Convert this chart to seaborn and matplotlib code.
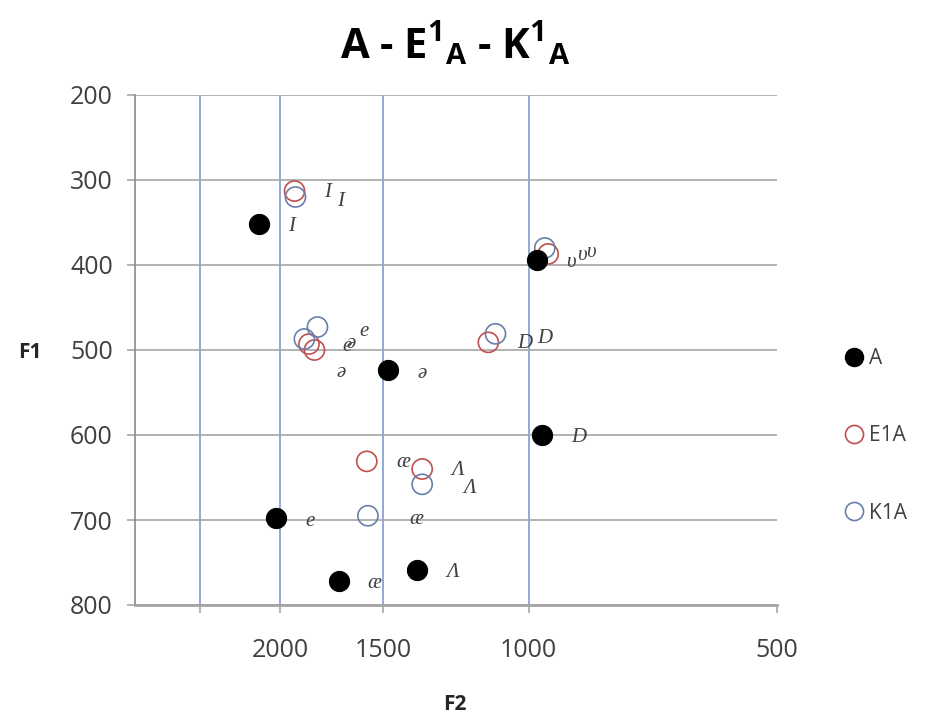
import matplotlib
matplotlib.use("Agg")
import matplotlib.pyplot as plt
import seaborn as sns
import pandas as pd
from matplotlib.lines import Line2D

# ---- data ----
A_vowels = ['I', 'υ', 'ə', 'D', 'e', 'æ', 'Λ']
A_F2 = [2121, 977, 1480, 964, 2023, 1700, 1365]
A_F1 = [352, 394, 524, 600, 698, 772, 759]

E1A_vowels = ['I', 'υ', 'e', 'ə', 'D', 'æ', 'Λ']
E1A_F2 = [1922, 947, 1846, 1818, 1119, 1571, 1346]
E1A_F1 = [313, 387, 493, 500, 491, 631, 640]

K1A_vowels = ['I', 'υ', 'e', 'ə', 'D', 'æ', 'Λ']
K1A_F2 = [1917, 956, 1803, 1870, 1097, 1566, 1346]
K1A_F1 = [320, 380, 473, 487, 481, 695, 658]

series_names = ['A', 'E1A', 'K1A']
x_ticks = [2500, 2000, 1500, 1000, 500]
x_ticklabels = ['', '2000', '1500', '1000', '500']
y_ticks = [200, 300, 400, 500, 600, 700, 800]

sns.set_theme(style="white")
plt.rcParams['font.family'] = ['Open Sans', 'DejaVu Sans']
plt.rcParams['mathtext.fontset'] = 'custom'
plt.rcParams['mathtext.bf'] = 'Open Sans:bold'
plt.rcParams['mathtext.rm'] = 'Open Sans:bold'
plt.rcParams['mathtext.default'] = 'bf'

df = pd.concat([
    pd.DataFrame({'F2': A_F2, 'F1': A_F1, 'vowel': A_vowels, 'series': 'A'}),
    pd.DataFrame({'F2': E1A_F2, 'F1': E1A_F1, 'vowel': E1A_vowels, 'series': 'E1A'}),
    pd.DataFrame({'F2': K1A_F2, 'F1': K1A_F1, 'vowel': K1A_vowels, 'series': 'K1A'}),
], ignore_index=True)

fig = plt.figure(figsize=(9.25, 7.21), dpi=100)
ax = fig.add_axes([135/925, 1-605/721, (777-135)/925, (605-95)/721])

red = '#C0504D'
blue = '#6A7FAA'
ms = 210

sns.scatterplot(data=df[df.series == 'A'], x='F2', y='F1', ax=ax, s=ms,
                color='black', edgecolor='black', linewidth=0.8, legend=False, zorder=4)
sns.scatterplot(data=df[df.series == 'E1A'], x='F2', y='F1', ax=ax, s=ms,
                facecolor='none', edgecolor=red, linewidth=1.2, legend=False, zorder=3)
sns.scatterplot(data=df[df.series == 'K1A'], x='F2', y='F1', ax=ax, s=ms,
                facecolor='none', edgecolor=blue, linewidth=1.2, legend=False, zorder=3)

label_offsets = {'A': (21, -2), 'E1A': (21, -1), 'K1A': (30, -3)}
label_overrides = {('E1A', 'ə'): (16, -16), ('E1A', 'e'): (24, -2)}
for _, r in df.iterrows():
    off = label_overrides.get((r['series'], r['vowel']), label_offsets[r['series']])
    ax.annotate(r['vowel'], (r['F2'], r['F1']), xytext=off,
                textcoords='offset points',
                fontsize=15, fontstyle='italic', color='#404040',
                family=['Liberation Serif', 'DejaVu Serif'], va='center', ha='left', zorder=5)

ax.set_xscale('log')
ax.set_xlim(3000, 500)
ax.set_ylim(800, 200)
ax.set_xticks(x_ticks)
ax.set_xticklabels(x_ticklabels)
ax.minorticks_off()
ax.set_yticks(y_ticks)

ax.grid(False)
for yv in y_ticks:
    ax.axhline(yv, color='#A6A6A6', lw=1.2, zorder=1)
ax.xaxis.grid(True, color='#7F9BD0', lw=1.2)
gl = ax.get_xgridlines()
gl[-1].set_visible(False)
ax.set_axisbelow(True)

for s in ['top', 'right']:
    ax.spines[s].set_visible(False)
ax.spines['left'].set_color('#8A8A8A')
ax.spines['left'].set_linewidth(1.2)
ax.spines['bottom'].set_color('#A6A6A6')
ax.spines['bottom'].set_linewidth(2)

ax.tick_params(axis='y', which='major', left=True, length=6, width=1.2, color='#A6A6A6',
               labelsize=18, labelcolor='#404040', pad=10)
ax.tick_params(axis='x', which='major', bottom=True, length=6, width=1.2, color='#A6A6A6',
               labelsize=18, labelcolor='#404040', pad=18)

ax.set_xlabel('')
ax.set_ylabel('')
fig.text(30/925, 1-352/721, 'F1', fontsize=15, fontweight='bold', color='#262626',
         ha='center', va='center')
fig.text(455/925, 1-705/721, 'F2', fontsize=15, fontweight='bold', color='#262626',
         ha='center', va='center')

fig.text(455/925, 1-45/721, r'A - E$^{1}{}_{A}$ - K$^{1}{}_{A}$',
         fontsize=30, fontweight='bold', ha='center', va='center', color='black')

handles = [
    Line2D([], [], marker='o', ls='', markersize=13, markerfacecolor='black', markeredgecolor='black'),
    Line2D([], [], marker='o', ls='', markersize=13, markerfacecolor='none', markeredgecolor=red, markeredgewidth=1.2),
    Line2D([], [], marker='o', ls='', markersize=13, markerfacecolor='none', markeredgecolor=blue, markeredgewidth=1.2),
]
fig.legend(handles, series_names, loc='center left', bbox_to_anchor=(825/925, 1-436/721),
           frameon=False, fontsize=15, labelspacing=2.7, handletextpad=0.2, handlelength=1.0,
           labelcolor='#404040')

fig.savefig('out.png', dpi=100)
